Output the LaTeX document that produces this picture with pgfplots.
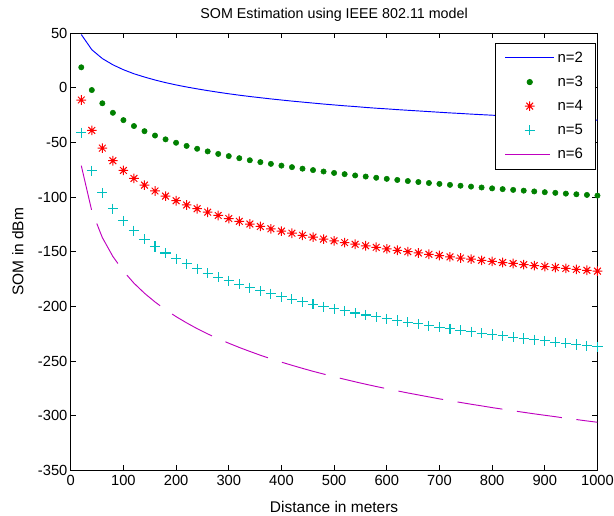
\documentclass[border=0pt]{standalone}
\usepackage{fontspec}
\setmainfont{Liberation Sans}
\usepackage{pgfplots}
\usepackage{pgfplotstable}
\pgfplotsset{compat=1.18}
\definecolor{mgreen}{rgb}{0,0.5,0}
\definecolor{mcyan}{rgb}{0,0.75,0.75}
\definecolor{mmag}{rgb}{0.75,0,0.75}
\pgfdeclareplotmark{mstar}{%
  \pgfpathmoveto{\pgfqpoint{-\pgfplotmarksize}{0pt}}\pgfpathlineto{\pgfqpoint{\pgfplotmarksize}{0pt}}%
  \pgfpathmoveto{\pgfqpoint{0pt}{-\pgfplotmarksize}}\pgfpathlineto{\pgfqpoint{0pt}{\pgfplotmarksize}}%
  \pgfpathmoveto{\pgfqpoint{-0.7\pgfplotmarksize}{-0.7\pgfplotmarksize}}\pgfpathlineto{\pgfqpoint{0.7\pgfplotmarksize}{0.7\pgfplotmarksize}}%
  \pgfpathmoveto{\pgfqpoint{-0.7\pgfplotmarksize}{0.7\pgfplotmarksize}}\pgfpathlineto{\pgfqpoint{0.7\pgfplotmarksize}{-0.7\pgfplotmarksize}}%
  \pgfusepathqstroke}
\pgfplotstableread{
d y2 y3 y4 y5 y6
20 48.6 18.6 -11.3 -41.3 -71.3
40 34.7 -2.2 -39.1 -76.0 -112.8
60 26.6 -14.3 -55.3 -96.2 -137.1
80 20.9 -23.0 -66.8 -110.6 -154.4
100 16.4 -29.7 -75.7 -121.8 -167.8
120 12.7 -35.1 -83.0 -130.9 -178.8
140 9.7 -39.8 -89.2 -138.6 -188.0
160 7.0 -43.8 -94.5 -145.3 -196.0
180 4.6 -47.3 -99.2 -151.2 -203.1
200 2.5 -50.4 -103.4 -156.4 -209.4
220 0.6 -53.3 -107.3 -161.2 -215.1
240 -1.1 -55.9 -110.7 -165.6 -220.4
260 -2.7 -58.3 -113.9 -169.6 -225.2
280 -4.2 -60.6 -116.9 -173.3 -229.6
300 -5.6 -62.6 -119.7 -176.7 -233.7
320 -6.9 -64.5 -122.2 -179.9 -237.6
340 -8.1 -66.4 -124.7 -183.0 -241.2
360 -9.2 -68.1 -126.9 -185.8 -244.7
380 -10.3 -69.7 -129.1 -188.5 -247.9
400 -11.3 -71.3 -131.2 -191.1 -251.0
420 -12.3 -72.7 -133.1 -193.5 -253.9
440 -13.2 -74.1 -135.0 -195.9 -256.7
460 -14.1 -75.4 -136.7 -198.1 -259.4
480 -15.0 -76.7 -138.5 -200.2 -261.9
500 -15.8 -78.0 -140.1 -202.3 -264.4
520 -16.6 -79.1 -141.7 -204.2 -266.7
540 -17.3 -80.3 -143.2 -206.1 -269.0
560 -18.1 -81.3 -144.6 -207.9 -271.2
580 -18.8 -82.4 -146.0 -209.7 -273.3
600 -19.4 -83.4 -147.4 -211.4 -275.3
620 -20.1 -84.4 -148.7 -213.0 -277.3
640 -20.7 -85.4 -150.0 -214.6 -279.2
660 -21.3 -86.3 -151.2 -216.1 -281.0
680 -21.9 -87.2 -152.4 -217.6 -282.8
700 -22.5 -88.0 -153.5 -219.1 -284.6
720 -23.1 -88.9 -154.7 -220.5 -286.2
740 -23.6 -89.7 -155.8 -221.9 -287.9
760 -24.2 -90.5 -156.8 -223.2 -289.5
780 -24.7 -91.3 -157.9 -224.5 -291.0
800 -25.2 -92.1 -158.9 -225.8 -292.6
820 -25.7 -92.8 -159.9 -227.0 -294.0
840 -26.2 -93.5 -160.8 -228.2 -295.5
860 -26.6 -94.2 -161.8 -229.4 -296.9
880 -27.1 -94.9 -162.7 -230.5 -298.3
900 -27.5 -95.6 -163.6 -231.6 -299.6
920 -28.0 -96.2 -164.5 -232.7 -300.9
940 -28.4 -96.9 -165.3 -233.8 -302.3
960 -28.8 -97.5 -166.2 -234.9 -303.5
980 -29.3 -98.1 -167.0 -235.9 -304.8
1000 -29.7 -98.7 -167.8 -236.9 -306.0
}\som
\begin{document}
\begin{tikzpicture}
\path[use as bounding box] (0,0) rectangle (460pt,386.5pt);
\begin{axis}[
  at={(53pt,34.1pt)}, anchor=south west,
  scale only axis, width=394.6pt, height=327.7pt,
  xmin=0, xmax=1000, ymin=-350, ymax=50,
  xtick={0,100,...,1000}, ytick={-350,-300,...,50},
  tick align=inside, major tick length=4pt,
  tick style={black, line width=0.5pt},
  axis line style={black, line width=0.6pt},
  /pgf/number format/assume math mode=true,
  /pgf/number format/set thousands separator={},
  ticklabel style={font=\fontsize{11}{13}\selectfont},
  yticklabel style={xshift=1pt},
  title={SOM Estimation using IEEE 802.11 model},
  title style={font=\fontsize{10.7}{12}\selectfont, yshift=-1pt},
  xlabel={Distance in meters}, ylabel={SOM in dBm},
  label style={font=\fontsize{11.6}{13}\selectfont},
  xlabel style={yshift=-5pt},
  ylabel style={yshift=4pt},
  legend style={at={(0.996,0.978)}, anchor=north east, draw=black, line width=0.6pt,
    font=\fontsize{11.2}{13}\selectfont, cells={anchor=west}, row sep=4.8pt,
    inner xsep=7pt, inner ysep=4.5pt},
  legend image code/.code={\draw[mark repeat=2,mark phase=2,#1] plot coordinates {(0pt,0pt) (18.5pt,0pt) (37pt,0pt)};},
]
\addplot[blue, line width=0.7pt] table[x=d, y=y2] {\som};
\addlegendentry{n=2}
\addplot[only marks, mgreen, mark=*, mark size=2pt] table[x=d, y=y3] {\som};
\addlegendentry{n=3}
\addplot[only marks, red, mark=mstar, mark size=3.6pt, line width=0.75pt] table[x=d, y=y4] {\som};
\addlegendentry{n=4}
\addplot[only marks, mcyan, mark=+, mark size=3.8pt, line width=0.8pt] table[x=d, y=y5] {\som};
\addlegendentry{n=5}
\addplot[mmag, line width=0.7pt, dash pattern=on 34pt off 11pt] table[x=d, y=y6] {\som};
\addlegendentry{n=6}
\end{axis}
\end{tikzpicture}
\end{document}
